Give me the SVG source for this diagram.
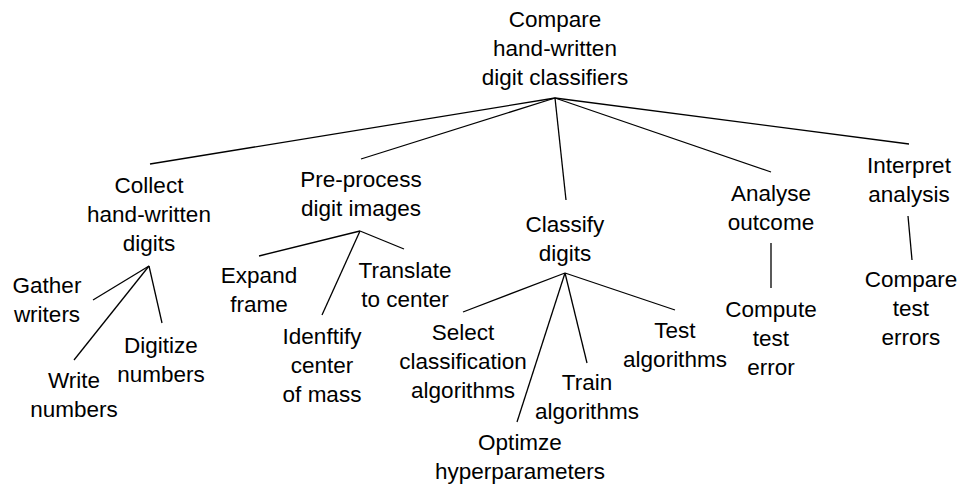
<svg xmlns="http://www.w3.org/2000/svg" width="959" height="490" viewBox="0 0 959 490">
<style>
text{font-family:"Liberation Sans",Arial,sans-serif;font-size:22.5px;fill:#000;text-anchor:middle}
#connectors line{stroke:#000;stroke-width:1.3;fill:none}
</style>
<rect width="959" height="490" fill="#fff"/>
<g id="connectors">
<line x1="555" y1="98" x2="150" y2="164"/>
<line x1="555" y1="98" x2="361" y2="159"/>
<line x1="555" y1="98" x2="566" y2="200"/>
<line x1="555" y1="98" x2="771" y2="172"/>
<line x1="555" y1="98" x2="909" y2="144"/>
<line x1="149" y1="266" x2="93" y2="300"/>
<line x1="149" y1="266" x2="74" y2="360"/>
<line x1="149" y1="266" x2="162" y2="323"/>
<line x1="360" y1="231" x2="259" y2="256"/>
<line x1="360" y1="231" x2="322" y2="315"/>
<line x1="360" y1="231" x2="404" y2="249"/>
<line x1="565" y1="273" x2="463" y2="312"/>
<line x1="565" y1="273" x2="517" y2="422"/>
<line x1="565" y1="273" x2="587" y2="363"/>
<line x1="565" y1="273" x2="675" y2="310"/>
<line x1="771" y1="243" x2="771" y2="288"/>
<line x1="908" y1="216" x2="912" y2="260"/>
</g>
<g id="root"><text x="555" y="27">Compare<tspan x="555" dy="29">hand-written</tspan><tspan x="555" dy="29">digit classifiers</tspan></text></g>
<g id="collect"><text x="149" y="193">Collect<tspan x="149" dy="29">hand-written</tspan><tspan x="149" dy="29">digits</tspan></text></g>
<g id="preprocess"><text x="361" y="187">Pre-process<tspan x="361" dy="29">digit images</tspan></text></g>
<g id="classify"><text x="565" y="232">Classify<tspan x="565" dy="29">digits</tspan></text></g>
<g id="analyse"><text x="771" y="201">Analyse<tspan x="771" dy="29">outcome</tspan></text></g>
<g id="interpret"><text x="909" y="173">Interpret<tspan x="909" dy="29">analysis</tspan></text></g>
<g id="gather"><text x="47" y="293">Gather<tspan x="47" dy="29">writers</tspan></text></g>
<g id="write"><text x="74" y="388">Write<tspan x="74" dy="29">numbers</tspan></text></g>
<g id="digitize"><text x="161" y="353">Digitize<tspan x="161" dy="29">numbers</tspan></text></g>
<g id="expand"><text x="259" y="283">Expand<tspan x="259" dy="29">frame</tspan></text></g>
<g id="identify"><text x="322" y="344">Idenftify<tspan x="322" dy="29">center</tspan><tspan x="322" dy="29">of mass</tspan></text></g>
<g id="translate"><text x="405" y="278">Translate<tspan x="405" dy="29">to center</tspan></text></g>
<g id="select"><text x="463" y="340">Select<tspan x="463" dy="29">classification</tspan><tspan x="463" dy="29">algorithms</tspan></text></g>
<g id="optimize"><text x="520" y="450">Optimze<tspan x="520" dy="29">hyperparameters</tspan></text></g>
<g id="train"><text x="587" y="390">Train<tspan x="587" dy="29">algorithms</tspan></text></g>
<g id="test"><text x="675" y="338">Test<tspan x="675" dy="29">algorithms</tspan></text></g>
<g id="compute"><text x="771" y="317">Compute<tspan x="771" dy="29">test</tspan><tspan x="771" dy="29">error</tspan></text></g>
<g id="compare"><text x="911" y="287">Compare<tspan x="911" dy="29">test</tspan><tspan x="911" dy="29">errors</tspan></text></g>
</svg>
